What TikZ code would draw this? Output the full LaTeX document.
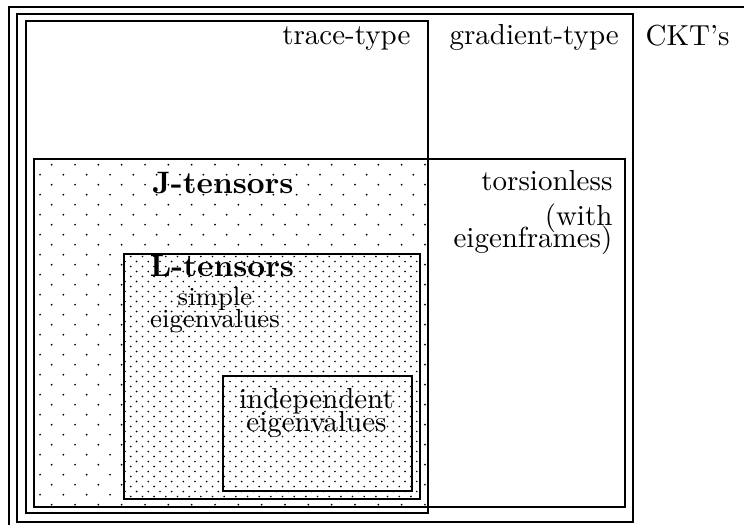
\documentclass[tikz,border=0pt]{standalone}
\begin{document}
\begin{tikzpicture}[x=0.345pt,y=-0.345pt,
  box/.style={draw, line width=0.9pt},
  lbl/.style={inner sep=0pt},
  bold/.style={font=\fontsize{10.7}{12}\selectfont\bfseries},
  dotmark/.style={fill=black}]
\useasboundingbox (0,0) rectangle (744,524);
\clip (0,0) rectangle (744,524);

% sparse dots: J-tensors region (torsionless part of the trace-type box)
\begin{scope}
  \clip (35,160) rectangle (427,506);
  \foreach \j in {0,...,34} {
    \pgfmathsetmacro\yy{164.7+10*\j}
    \pgfmathsetmacro\xo{51.7-11.67*mod(\j,2)}
    \foreach \k in {0,...,16}
      \fill[dotmark] (\xo+23.33*\k,\yy) circle[radius=0.34pt];
  }
\end{scope}

% dense dots: L-tensors region
\begin{scope}
  \fill[white] (124,254) rectangle (420,499);
  \clip (125,255) rectangle (419,498);
  \foreach \j in {0,...,49} {
    \pgfmathsetmacro\yy{256.5+5*\j}
    \pgfmathsetmacro\xo{130.8-5.83*mod(\j,2)}
    \foreach \k in {0,...,25}
      \fill[dotmark] (\xo+11.67*\k,\yy) circle[radius=0.32pt];
  }
\end{scope}

% nested boxes
\draw[box] (9,7) rectangle (770,560);      % CKT's
\draw[box] (17,14) rectangle (633,522);    % gradient-type
\draw[box] (26,21) rectangle (428,513);    % trace-type
\draw[box] (34,159) rectangle (625,507);   % torsionless
\draw[box] (124,254) rectangle (420,499);  % L-tensors
\draw[box] (223,376) rectangle (412,491);  % independent eigenvalues

% labels
\node[lbl, anchor=base east] (trace) at (411,44.5) {trace-type};
\node[lbl, anchor=base west] (grad) at (449,44.5) {gradient-type};
\node[lbl, anchor=base west] (ckt) at (645,45) {CKT's};
\node[lbl, anchor=base, bold] (jt) at (223,193) {J-tensors};
\node[lbl, anchor=base east] (tors) at (613,190) {torsionless};
\node[lbl, anchor=base east] (with) at (613,225) {(with};
\node[lbl, anchor=base east] (eigf) at (613,247.5) {eigenframes)};
\node[lbl, anchor=base, bold] (lt) at (222,276) {L-tensors};
\node[lbl, anchor=base, font=\small] (simple) at (215,305) {simple};
\node[lbl, anchor=base, font=\small] (ev1) at (215,327) {eigenvalues};
\node[lbl, anchor=base] (indep) at (316.5,408.5) {independent};
\node[lbl, anchor=base] (ev2) at (316.5,431) {eigenvalues};
\end{tikzpicture}
\end{document}
